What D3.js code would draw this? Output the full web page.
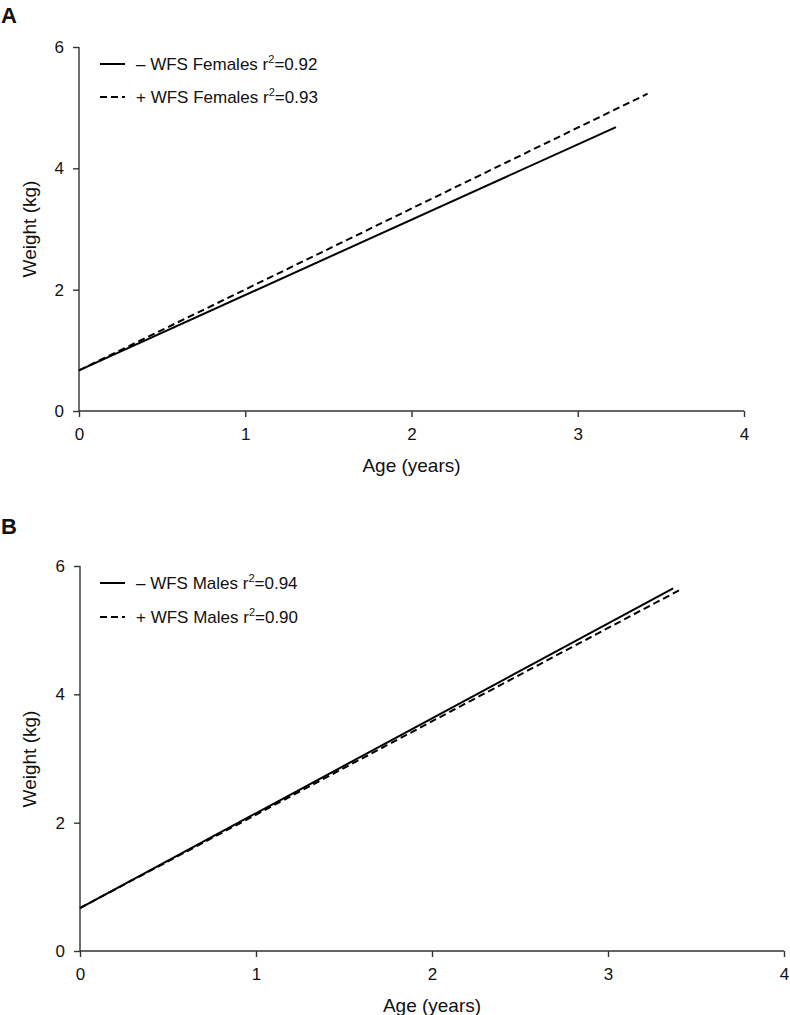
<!DOCTYPE html>
<html><head><meta charset="utf-8">
<script src="https://cdn.jsdelivr.net/npm/d3@7"></script>
<style>body{margin:0;background:#fff}svg{display:block}text{font-family:"Liberation Sans",Arial,sans-serif;fill:#111}</style>
</head><body><svg id="c" width="790" height="1015"></svg>
<script>
const xTicks = [0, 1, 2, 3, 4];
const yTicks = [0, 2, 4, 6];
const xLabel = "Age (years)";
const yLabel = "Weight (kg)";
// Panel A (females)
const agesAminus = [0, 3.23];
const weightsAminus = [0.67, 4.68];
const agesAplus = [0, 3.42];
const weightsAplus = [0.67, 5.23];
const legendA = ["\u2013 WFS Females r", "=0.92", "+ WFS Females r", "=0.93"];
// Panel B (males)
const agesBminus = [0, 3.37];
const weightsBminus = [0.67, 5.65];
const agesBplus = [0, 3.41];
const weightsBplus = [0.67, 5.63];
const legendB = ["\u2013 WFS Males r", "=0.94", "+ WFS Males r", "=0.90"];

const svg = d3.select("#c");

function panel(cfg){
  const g = svg.append("g");
  const x = d3.scaleLinear().domain([0,4]).range([cfg.x0, cfg.x1]);
  const y = d3.scaleLinear().domain([0,6]).range([cfg.y0, cfg.y1]);
  g.append("text").attr("x", 1).attr("y", cfg.labelY).attr("font-size", 22).attr("font-weight", "bold").text(cfg.letter);
  const xa = g.append("g").attr("transform", `translate(0,${cfg.y0})`)
    .call(d3.axisBottom(x).tickValues(xTicks).tickFormat(d3.format("d")).tickSize(6).tickPadding(11));
  const ya = g.append("g").attr("transform", `translate(${cfg.x0},0)`)
    .call(d3.axisLeft(y).tickValues(yTicks).tickFormat(d3.format("d")).tickSize(6).tickPadding(9));
  [xa, ya].forEach(a => {
    a.attr("font-size", 17).attr("font-family", "Liberation Sans, Arial, sans-serif");
    a.select(".domain").attr("stroke", "#333").attr("stroke-width", 1.4);
    a.selectAll(".tick line").attr("stroke", "#333").attr("stroke-width", 1.4);
    a.selectAll(".tick text").attr("font-size", 17).attr("fill", "#111");
  });
  xa.select(".domain").attr("d", `M${cfg.x0},0H${cfg.x1}`);
  ya.select(".domain").attr("d", `M0,${cfg.y0}V${cfg.y1}`);
  g.append("text").attr("x", (cfg.x0+cfg.x1)/2).attr("y", cfg.y0 + 61).attr("text-anchor", "middle").attr("font-size", 19).text(xLabel);
  g.append("text").attr("transform", `translate(36,${cfg.ylabC}) rotate(-90)`).attr("text-anchor", "middle").attr("font-size", 19).text(yLabel);
  const line = d3.line().x(d => x(d[0])).y(d => y(d[1]));
  const series = [
    {a: cfg.am, w: cfg.wm, dash: null},
    {a: cfg.ap, w: cfg.wp, dash: "7,4"}
  ];
  series.forEach(s => {
    g.append("path").datum(d3.zip(s.a, s.w)).attr("d", line)
      .attr("fill", "none").attr("stroke", "#000").attr("stroke-width", 2)
      .attr("stroke-dasharray", s.dash);
  });
  [0,1].forEach(i => {
    const ly = cfg.legY[i];
    g.append("line").attr("x1", 100).attr("x2", 125).attr("y1", ly).attr("y2", ly)
      .attr("stroke", "#000").attr("stroke-width", 2).attr("stroke-dasharray", series[i].dash);
    const t = g.append("text").attr("x", 136).attr("y", ly + 6).attr("font-size", 17);
    t.append("tspan").text(cfg.leg[2*i]);
    t.append("tspan").attr("font-size", 11).attr("dy", -7).text("2");
    t.append("tspan").attr("dy", 7).text(cfg.leg[2*i+1]);
  });
}

panel({letter:"A", labelY:23, x0:79, x1:744, y0:411, y1:47, ylabC:229,
  am:agesAminus, wm:weightsAminus, ap:agesAplus, wp:weightsAplus, leg:legendA, legY:[64, 97]});
panel({letter:"B", labelY:534, x0:80, x1:784, y0:951, y1:566, ylabC:759,
  am:agesBminus, wm:weightsBminus, ap:agesBplus, wp:weightsBplus, leg:legendB, legY:[583, 617]});
</script></body></html>
